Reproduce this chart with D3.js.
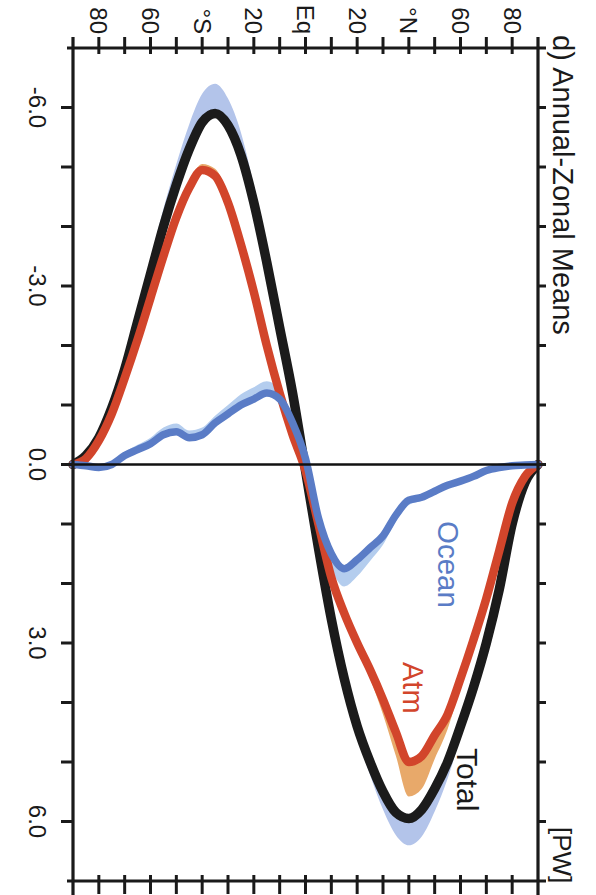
<!DOCTYPE html>
<html><head><meta charset="utf-8">
<script src="https://cdn.jsdelivr.net/npm/d3@7"></script>
<style>body{margin:0;background:#fff}svg{display:block}text{font-family:"Liberation Sans",Arial,Helvetica,sans-serif}</style>
</head><body><svg id="c" width="596" height="895"></svg>
<script>
// Latitude grid (degrees, negative = south)
const lats   = [-90,-85,-80,-75,-70,-65,-60,-55,-50,-45,-40,-35,-30,-25,-20,-15,-10,-5,0,5,10,15,20,25,30,35,40,45,50,55,60,65,70,75,80,85,90];
// Northward energy transport [PW]
const total  = [0,-0.15,-0.45,-0.95,-1.6,-2.4,-3.2,-4.0,-4.7,-5.3,-5.75,-5.9,-5.7,-5.2,-4.4,-3.4,-2.3,-1.2,0.1,1.4,2.6,3.6,4.4,5.0,5.5,5.85,5.95,5.8,5.45,5.0,4.4,3.75,3.0,2.1,1.0,0.3,0];
// uncertainty band extents below (more southward) and above (more northward) the estimate
const totalBandNeg = [0,0.05,0.1,0.15,0.2,0.22,0.25,0.3,0.35,0.42,0.48,0.5,0.45,0.38,0.28,0.18,0.1,0.06,0.05,0.04,0.04,0.04,0.04,0.04,0.04,0.04,0.04,0.04,0.04,0.04,0.04,0.04,0.04,0.03,0.02,0.01,0];
const totalBandPos = [0,0.01,0.02,0.03,0.04,0.04,0.04,0.04,0.04,0.04,0.04,0.04,0.04,0.04,0.04,0.04,0.04,0.05,0.05,0.06,0.08,0.1,0.15,0.22,0.3,0.38,0.45,0.45,0.38,0.28,0.18,0.12,0.08,0.06,0.04,0.02,0];
const atm    = [0,-0.1,-0.4,-0.85,-1.45,-2.1,-2.8,-3.5,-4.15,-4.65,-4.95,-4.85,-4.4,-3.7,-2.9,-2.0,-1.2,-0.5,0.1,1.0,1.9,2.5,3.0,3.45,3.95,4.5,5.0,4.9,4.55,4.2,3.6,2.95,2.25,1.45,0.65,0.2,0];
const atmBandNeg = [0,0.02,0.03,0.04,0.05,0.05,0.06,0.06,0.07,0.08,0.1,0.12,0.15,0.18,0.15,0.1,0.06,0.04,0.03,0.03,0.03,0.03,0.03,0.03,0.03,0.03,0.03,0.03,0.03,0.03,0.03,0.03,0.03,0.02,0.02,0.01,0];
const atmBandPos = [0,0.01,0.01,0.02,0.02,0.02,0.02,0.02,0.02,0.02,0.02,0.02,0.02,0.02,0.02,0.02,0.02,0.03,0.04,0.05,0.06,0.08,0.1,0.15,0.25,0.4,0.58,0.55,0.4,0.25,0.14,0.08,0.05,0.04,0.03,0.02,0];
const ocean  = [0,0.02,0.05,0.0,-0.15,-0.25,-0.35,-0.5,-0.55,-0.45,-0.5,-0.7,-0.85,-1.0,-1.1,-1.2,-1.1,-0.7,-0.1,0.9,1.5,1.75,1.6,1.4,1.2,0.85,0.6,0.55,0.45,0.35,0.28,0.2,0.1,0.05,0.02,0.01,0];
const oceanBandNeg = [0,0.03,0.04,0.05,0.06,0.08,0.1,0.12,0.14,0.12,0.12,0.12,0.15,0.18,0.2,0.2,0.15,0.1,0.06,0.05,0.05,0.05,0.05,0.05,0.05,0.05,0.05,0.04,0.04,0.04,0.04,0.03,0.03,0.02,0.02,0.01,0];
const oceanBandPos = [0,0.03,0.04,0.04,0.04,0.04,0.04,0.04,0.04,0.04,0.04,0.04,0.04,0.04,0.04,0.04,0.05,0.06,0.1,0.18,0.25,0.3,0.28,0.22,0.15,0.1,0.08,0.06,0.06,0.05,0.05,0.04,0.03,0.02,0.02,0.01,0];

const latTicks  = [-80,-70,-60,-50,-40,-30,-20,-10,0,10,20,30,40,50,60,70,80];
const latLabelTicks = [-80,-60,-40,-20,0,20,40,60,80];
const latLabels = ["80","60","°S","20","Eq","20","°N","60","80"];
const valTicks  = [-6,-5,-4,-3,-2,-1,0,1,2,3,4,5,6];
const valLabelTicks = [-6,-3,0,3,6];
const valLabels = ["-6.0","-3.0","0.0","3.0","6.0"];
const title = "d) Annual-Zonal Means";
const unit = "[PW]";
const seriesNames = ["Ocean","Atm","Total"];

const colTotal = "#1b1b1b", colAtm = "#d2452b", colOcean = "#5a7cc6";
const colTotalBand = "#b3c4ea", colAtmBand = "#e8a96a", colOceanBand = "#b4cdee";

const svg = d3.select("#c");
// Rotated layout: latitude runs left->right, value runs top->bottom
const x = d3.scaleLinear().domain([-90, 90]).range([73, 538]);
const y = d3.scaleLinear().domain([-7, 7]).range([48, 881]);

function series(vals, neg, pos){ return lats.map((l,i)=>({lat:l, v:vals[i], lo:vals[i]-neg[i], hi:vals[i]+pos[i]})); }
const curve = d3.curveMonotoneX;
const area = d3.area().x(d=>x(d.lat)).y0(d=>y(d.lo)).y1(d=>y(d.hi)).curve(curve);
const line = d3.line().x(d=>x(d.lat)).y(d=>y(d.v)).curve(curve);

const T = series(total, totalBandNeg, totalBandPos), A = series(atm, atmBandNeg, atmBandPos), O = series(ocean, oceanBandNeg, oceanBandPos);

svg.append("path").attr("d", area(T)).attr("fill", colTotalBand);
svg.append("path").attr("d", area(O)).attr("fill", colOceanBand);
svg.append("path").attr("d", area(A)).attr("fill", colAtmBand);

svg.append("path").attr("d", line(T)).attr("fill","none").attr("stroke",colTotal).attr("stroke-width",9.5).attr("stroke-linecap","round").attr("stroke-linejoin","round");
svg.append("path").attr("d", line(A)).attr("fill","none").attr("stroke",colAtm).attr("stroke-width",8.5).attr("stroke-linecap","round").attr("stroke-linejoin","round");
svg.append("path").attr("d", line(O)).attr("fill","none").attr("stroke",colOcean).attr("stroke-width",7.5).attr("stroke-linecap","round").attr("stroke-linejoin","round");

// zero line
svg.append("line").attr("x1",x(-90)).attr("x2",x(90)).attr("y1",y(0)).attr("y2",y(0)).attr("stroke","#111").attr("stroke-width",2.5);

const ax = "#1a1a1a";
const gTop = svg.append("g").attr("transform",`translate(0,${y(-7)})`)
  .call(d3.axisTop(x).tickValues(latTicks).tickSize(0).tickFormat(""));
gTop.select(".domain").remove();
const gBot = svg.append("g").attr("transform",`translate(0,${y(7)})`)
  .call(d3.axisBottom(x).tickValues(latTicks).tickSize(0).tickFormat(""));
gBot.select(".domain").remove();
// frame lines
svg.append("line").attr("x1",67).attr("x2",546).attr("y1",y(-7)).attr("y2",y(-7)).attr("stroke",ax).attr("stroke-width",3.2);
svg.append("line").attr("x1",67).attr("x2",546).attr("y1",y(7)).attr("y2",y(7)).attr("stroke",ax).attr("stroke-width",3.2);
svg.append("line").attr("x1",x(-90)).attr("x2",x(-90)).attr("y1",37).attr("y2",895).attr("stroke",ax).attr("stroke-width",3.2);
svg.append("line").attr("x1",x(90)).attr("x2",x(90)).attr("y1",37).attr("y2",895).attr("stroke",ax).attr("stroke-width",3.2);
latTicks.forEach(t=>{
  svg.append("line").attr("x1",x(t)).attr("x2",x(t)).attr("y1",y(-7)-11).attr("y2",y(-7)+6).attr("stroke",ax).attr("stroke-width",3);
  svg.append("line").attr("x1",x(t)).attr("x2",x(t)).attr("y1",y(7)-6).attr("y2",y(7)+13).attr("stroke",ax).attr("stroke-width",3);
});
valTicks.forEach(t=>{
  svg.append("line").attr("x1",x(-90)-12).attr("x2",x(-90)).attr("y1",y(t)).attr("y2",y(t)).attr("stroke",ax).attr("stroke-width",3);
  svg.append("line").attr("x1",x(90)).attr("x2",x(90)+8).attr("y1",y(t)).attr("y2",y(t)).attr("stroke",ax).attr("stroke-width",3);
});

function rtext(px, py, str, opts){
  return svg.append("text").attr("transform",`translate(${px},${py}) rotate(90)`)
    .attr("text-anchor", opts.anchor || "start").attr("dominant-baseline","central")
    .attr("font-size", opts.size).attr("fill", opts.fill || "#1a1a1a").text(str);
}
latLabelTicks.forEach((t,i)=> rtext(x(t), 34, latLabels[i], {anchor:"end", size:24}));
valLabelTicks.forEach((t,i)=> rtext(37, y(t), valLabels[i], {anchor:"middle", size:24}));
rtext(563, 35, title, {anchor:"start", size:29});
rtext(562, 827, unit, {anchor:"start", size:26});
rtext(448, 521, seriesNames[0], {anchor:"start", size:29.5, fill:colOcean});
rtext(413, 662, seriesNames[1], {anchor:"start", size:29, fill:colAtm});
rtext(467, 748, seriesNames[2], {anchor:"start", size:30, fill:"#1a1a1a"});
</script></body></html>
